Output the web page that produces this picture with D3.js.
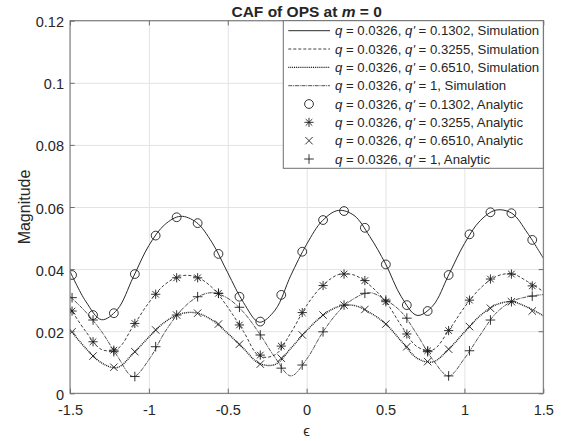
<!DOCTYPE html>
<html>
<head>
<meta charset="utf-8">
<script src="https://cdn.jsdelivr.net/npm/d3@7"></script>
<style>
  body { margin: 0; background: #fff; }
  svg { display: block; }
  text { font-family: "Liberation Sans", Arial, Helvetica, sans-serif; fill: #262626; }
</style>
</head>
<body>
<svg id="chart" width="566" height="441"></svg>
<script>
// ---- data -------------------------------------------------------------
// dense epsilon grid of the simulated curves
const simEps = [-1.5, -1.4, -1.3, -1.2, -1.1, -1.0, -0.9, -0.8, -0.7, -0.6, -0.5,
                -0.4, -0.3, -0.2, -0.1, 0.0, 0.1, 0.2, 0.3, 0.4, 0.5,
                0.6, 0.7, 0.8, 0.9, 1.0, 1.1, 1.2, 1.3, 1.4, 1.5];
const simQ1302 = [0.0393, 0.0296, 0.0237, 0.0270, 0.0373, 0.0476, 0.0543, 0.0570, 0.0551, 0.0486, 0.0388,
                  0.0292, 0.0229, 0.0268, 0.0380, 0.0480, 0.0556, 0.0589, 0.0573, 0.0505, 0.0417,
                  0.0311, 0.0251, 0.0282, 0.0381, 0.0482, 0.0556, 0.0590, 0.0580, 0.0516, 0.0435];
const simQ3255 = [0.0275, 0.0199, 0.0141, 0.0143, 0.0216, 0.0292, 0.0350, 0.0378, 0.0375, 0.0341, 0.0277,
                  0.0199, 0.0120, 0.0124, 0.0195, 0.0283, 0.0346, 0.0382, 0.0381, 0.0348, 0.0296,
                  0.0218, 0.0150, 0.0140, 0.0202, 0.0277, 0.0338, 0.0376, 0.0385, 0.0360, 0.0328];
const simQ6510 = [0.0205, 0.0145, 0.0098, 0.0083, 0.0128, 0.0181, 0.0229, 0.0256, 0.0259, 0.0236, 0.0193,
                  0.0144, 0.0096, 0.0093, 0.0145, 0.0202, 0.0250, 0.0279, 0.0283, 0.0260, 0.0224,
                  0.0168, 0.0113, 0.0101, 0.0142, 0.0197, 0.0250, 0.0285, 0.0295, 0.0277, 0.0250];
const simQ1 =    [0.0312, 0.0262, 0.0199, 0.0120, 0.0054, 0.0108, 0.0196, 0.0265, 0.0308, 0.0324, 0.0306,
                  0.0261, 0.0193, 0.0115, 0.0056, 0.0110, 0.0195, 0.0262, 0.0305, 0.0324, 0.0301,
                  0.0262, 0.0189, 0.0108, 0.0056, 0.0112, 0.0188, 0.0258, 0.0296, 0.0311, 0.0318];

// epsilon positions of the analytic samples
const anaEps = [-1.487, -1.354, -1.222, -1.089, -0.957, -0.824, -0.691, -0.559, -0.426, -0.294, -0.161, -0.028,
                0.104, 0.237, 0.369, 0.502, 0.635, 0.767, 0.900, 1.032, 1.165, 1.298, 1.430];
const anaQ1302 = [0.0381, 0.0252, 0.0258, 0.0384, 0.0508, 0.0567, 0.0548, 0.0449, 0.0311, 0.0231, 0.0317, 0.0456,
                  0.0558, 0.0587, 0.0533, 0.0415, 0.0284, 0.0265, 0.0381, 0.0512, 0.0583, 0.0580, 0.0494];
const anaQ3255 = [0.0265, 0.0166, 0.0139, 0.0225, 0.0319, 0.0372, 0.0372, 0.0322, 0.0220, 0.0123, 0.0152, 0.0260,
                  0.0347, 0.0384, 0.0363, 0.0295, 0.0191, 0.0137, 0.0202, 0.0300, 0.0368, 0.0384, 0.0346];
const anaQ6510 = [0.0198, 0.0120, 0.0084, 0.0134, 0.0204, 0.0252, 0.0258, 0.0223, 0.0158, 0.0094, 0.0113, 0.0188,
                  0.0252, 0.0284, 0.0270, 0.0223, 0.0150, 0.0102, 0.0142, 0.0215, 0.0274, 0.0295, 0.0265];
const anaQ1 =    [0.0308, 0.0236, 0.0134, 0.0054, 0.0150, 0.0252, 0.0311, 0.0322, 0.0277, 0.0188, 0.0081, 0.0091,
                  0.0198, 0.0284, 0.0322, 0.0300, 0.0242, 0.0134, 0.0056, 0.0137, 0.0236, 0.0295, 0.0313];

const xTicks = [-1.5, -1, -0.5, 0, 0.5, 1, 1.5];
const xTickLabels = ["-1.5", "-1", "-0.5", "0", "0.5", "1", "1.5"];
const yTicks = [0, 0.02, 0.04, 0.06, 0.08, 0.1, 0.12];
const yTickLabels = ["0", "0.02", "0.04", "0.06", "0.08", "0.1", "0.12"];

const simLabels = ["0.1302", "0.3255", "0.6510", "1"];
const qValue = "0.0326";

// ---- layout -----------------------------------------------------------
const P = { left: 70, top: 20.7, right: 543.3, bottom: 393.3 };
const x = d3.scaleLinear().domain([-1.5, 1.5]).range([P.left, P.right]);
const y = d3.scaleLinear().domain([0, 0.12]).range([P.bottom, P.top]);
const axisColor = "#6e6e6e";
const ink = "#1e1e1e";
const tickLen = 4.7;

const svg = d3.select("#chart");
svg.append("rect").attr("width", 566).attr("height", 441).attr("fill", "#fff");

svg.append("defs").append("clipPath").attr("id", "plotClip")
  .append("rect").attr("x", P.left).attr("y", P.top)
  .attr("width", P.right - P.left).attr("height", P.bottom - P.top);

// grid
const grid = svg.append("g");
grid.append("g").attr("transform", `translate(0,${P.bottom})`)
  .call(d3.axisBottom(x).tickValues(xTicks).tickSize(-(P.bottom - P.top)).tickFormat(""))
  .call(g => g.select(".domain").remove())
  .call(g => g.selectAll("line").attr("stroke", "#e3e3e3").attr("stroke-width", 1));
grid.append("g").attr("transform", `translate(${P.left},0)`)
  .call(d3.axisLeft(y).tickValues(yTicks).tickSize(-(P.right - P.left)).tickFormat(""))
  .call(g => g.select(".domain").remove())
  .call(g => g.selectAll("line").attr("stroke", "#e3e3e3").attr("stroke-width", 1));

// simulated curves
const simSeries = [
  { vals: simQ1302, dash: null,          width: 1.0, color: "#2a2a2a" },
  { vals: simQ3255, dash: "3,2",         width: 0.9, color: "#2a2a2a" },
  { vals: simQ6510, dash: "1,0.9",       width: 1.4, color: "#1a1a1a" },
  { vals: simQ1,    dash: "4,0.8,1,0.8", width: 0.85, color: "#333" }
];
const line = d3.line().x(d => x(d[0])).y(d => y(d[1])).curve(d3.curveCatmullRom.alpha(0.5));
const plotG = svg.append("g").attr("clip-path", "url(#plotClip)");
simSeries.forEach(s => {
  plotG.append("path")
    .attr("d", line(simEps.map((e, i) => [e, s.vals[i]])))
    .attr("fill", "none").attr("stroke", s.color).attr("stroke-width", s.width)
    .attr("stroke-dasharray", s.dash);
});

// marker shapes
function markerPath(kind) {
  const p = d3.path();
  if (kind === "circle") {
    const r = 4.4; p.moveTo(r, 0); p.arc(0, 0, r, 0, 2 * Math.PI);
  } else if (kind === "plus") {
    const s = 4.8; p.moveTo(-s, 0); p.lineTo(s, 0); p.moveTo(0, -s); p.lineTo(0, s);
  } else if (kind === "times") {
    const s = 3.7; p.moveTo(-s, -s); p.lineTo(s, s); p.moveTo(-s, s); p.lineTo(s, -s);
  } else if (kind === "asterisk") {
    const s = 4.6, d = 3.3;
    p.moveTo(-s, 0); p.lineTo(s, 0); p.moveTo(0, -s); p.lineTo(0, s);
    p.moveTo(-d, -d); p.lineTo(d, d); p.moveTo(-d, d); p.lineTo(d, -d);
  }
  return p.toString();
}

const anaSeries = [
  { vals: anaQ1302, kind: "circle" },
  { vals: anaQ3255, kind: "asterisk" },
  { vals: anaQ6510, kind: "times" },
  { vals: anaQ1,    kind: "plus" }
];
anaSeries.forEach(s => {
  plotG.append("g").selectAll("path")
    .data(anaEps.map((e, i) => [e, s.vals[i]]))
    .join("path")
    .attr("transform", d => `translate(${x(d[0])},${y(d[1])})`)
    .attr("d", markerPath(s.kind))
    .attr("fill", "none").attr("stroke", ink).attr("stroke-width", 0.9);
});

// axes box and ticks
const fmtX = d => xTickLabels[xTicks.indexOf(d)];
const fmtY = d => yTickLabels[yTicks.indexOf(d)];
function styleAxis(g) {
  g.select(".domain").remove();
  g.selectAll(".tick line").attr("stroke", axisColor).attr("stroke-width", 1);
  g.selectAll(".tick text").attr("fill", "#262626").attr("font-size", "14.5px")
    .style("font-family", '"Liberation Sans", Arial, sans-serif');
}
svg.append("g").attr("transform", `translate(0,${P.bottom})`)
  .call(d3.axisBottom(x).tickValues(xTicks).tickFormat(fmtX).tickSizeInner(-tickLen).tickSizeOuter(0).tickPadding(11.5))
  .call(styleAxis);
svg.append("g").attr("transform", `translate(0,${P.top})`)
  .call(d3.axisTop(x).tickValues(xTicks).tickFormat("").tickSizeInner(-tickLen).tickSizeOuter(0))
  .call(styleAxis);
svg.append("g").attr("transform", `translate(${P.left},0)`)
  .call(d3.axisLeft(y).tickValues(yTicks).tickFormat(fmtY).tickSizeInner(-tickLen).tickSizeOuter(0).tickPadding(6))
  .call(styleAxis)
  .call(g => g.selectAll(".tick text").attr("dy", "0.42em"));
svg.append("g").attr("transform", `translate(${P.right},0)`)
  .call(d3.axisRight(y).tickValues(yTicks).tickFormat("").tickSizeInner(-tickLen).tickSizeOuter(0))
  .call(styleAxis);

svg.append("rect")
  .attr("x", P.left).attr("y", P.top)
  .attr("width", P.right - P.left).attr("height", P.bottom - P.top)
  .attr("fill", "none").attr("stroke", axisColor).attr("stroke-width", 1);

// axis labels and title
svg.append("text")
  .attr("transform", `translate(24,${(P.top + P.bottom) / 2}) rotate(-90)`)
  .attr("text-anchor", "middle").attr("dy", "0.35em")
  .attr("font-size", "16px").text("Magnitude");
svg.append("text")
  .attr("x", (P.left + P.right) / 2).attr("y", 431)
  .attr("text-anchor", "middle").attr("dy", "0.35em")
  .attr("font-size", "15px").text("ϵ");
const title = svg.append("text")
  .attr("x", (P.left + P.right) / 2).attr("y", 17)
  .attr("text-anchor", "middle").attr("font-size", "15.5px").attr("font-weight", "bold")
  .attr("fill", "#000");
title.append("tspan").text("CAF of OPS at ");
title.append("tspan").attr("font-style", "italic").text("m");
title.append("tspan").text(" = 0");

// legend
const L = { left: 283.3, top: 20.7, right: P.right, bottom: 168.3 };
const legend = svg.append("g");
legend.append("rect")
  .attr("x", L.left).attr("y", L.top)
  .attr("width", L.right - L.left).attr("height", L.bottom - L.top)
  .attr("fill", "#fff").attr("stroke", axisColor).attr("stroke-width", 1);

const rowY0 = 30.7, rowStep = 18.33;
const entries = [];
simSeries.forEach((s, i) => entries.push({ type: "line", s, qp: simLabels[i], tag: "Simulation" }));
anaSeries.forEach((s, i) => entries.push({ type: "marker", s, qp: simLabels[i], tag: "Analytic" }));

entries.forEach((e, i) => {
  const cy = rowY0 + i * rowStep;
  if (e.type === "line") {
    legend.append("line")
      .attr("x1", 288.3).attr("x2", 330).attr("y1", cy).attr("y2", cy)
      .attr("stroke", e.s.color).attr("stroke-width", e.s.width)
      .attr("stroke-dasharray", e.s.dash);
  } else {
    legend.append("path")
      .attr("transform", `translate(309,${cy})`)
      .attr("d", markerPath(e.s.kind))
      .attr("fill", "none").attr("stroke", ink).attr("stroke-width", 0.9);
  }
  const t = legend.append("text")
    .attr("x", 335).attr("y", cy).attr("dy", "0.35em")
    .attr("font-size", "13.2px");
  t.append("tspan").attr("font-style", "italic").text("q");
  t.append("tspan").text(` = ${qValue}, `);
  t.append("tspan").attr("font-style", "italic").text("q'");
  t.append("tspan").text(` = ${e.qp}, ${e.tag}`);
});
</script>
</body>
</html>
